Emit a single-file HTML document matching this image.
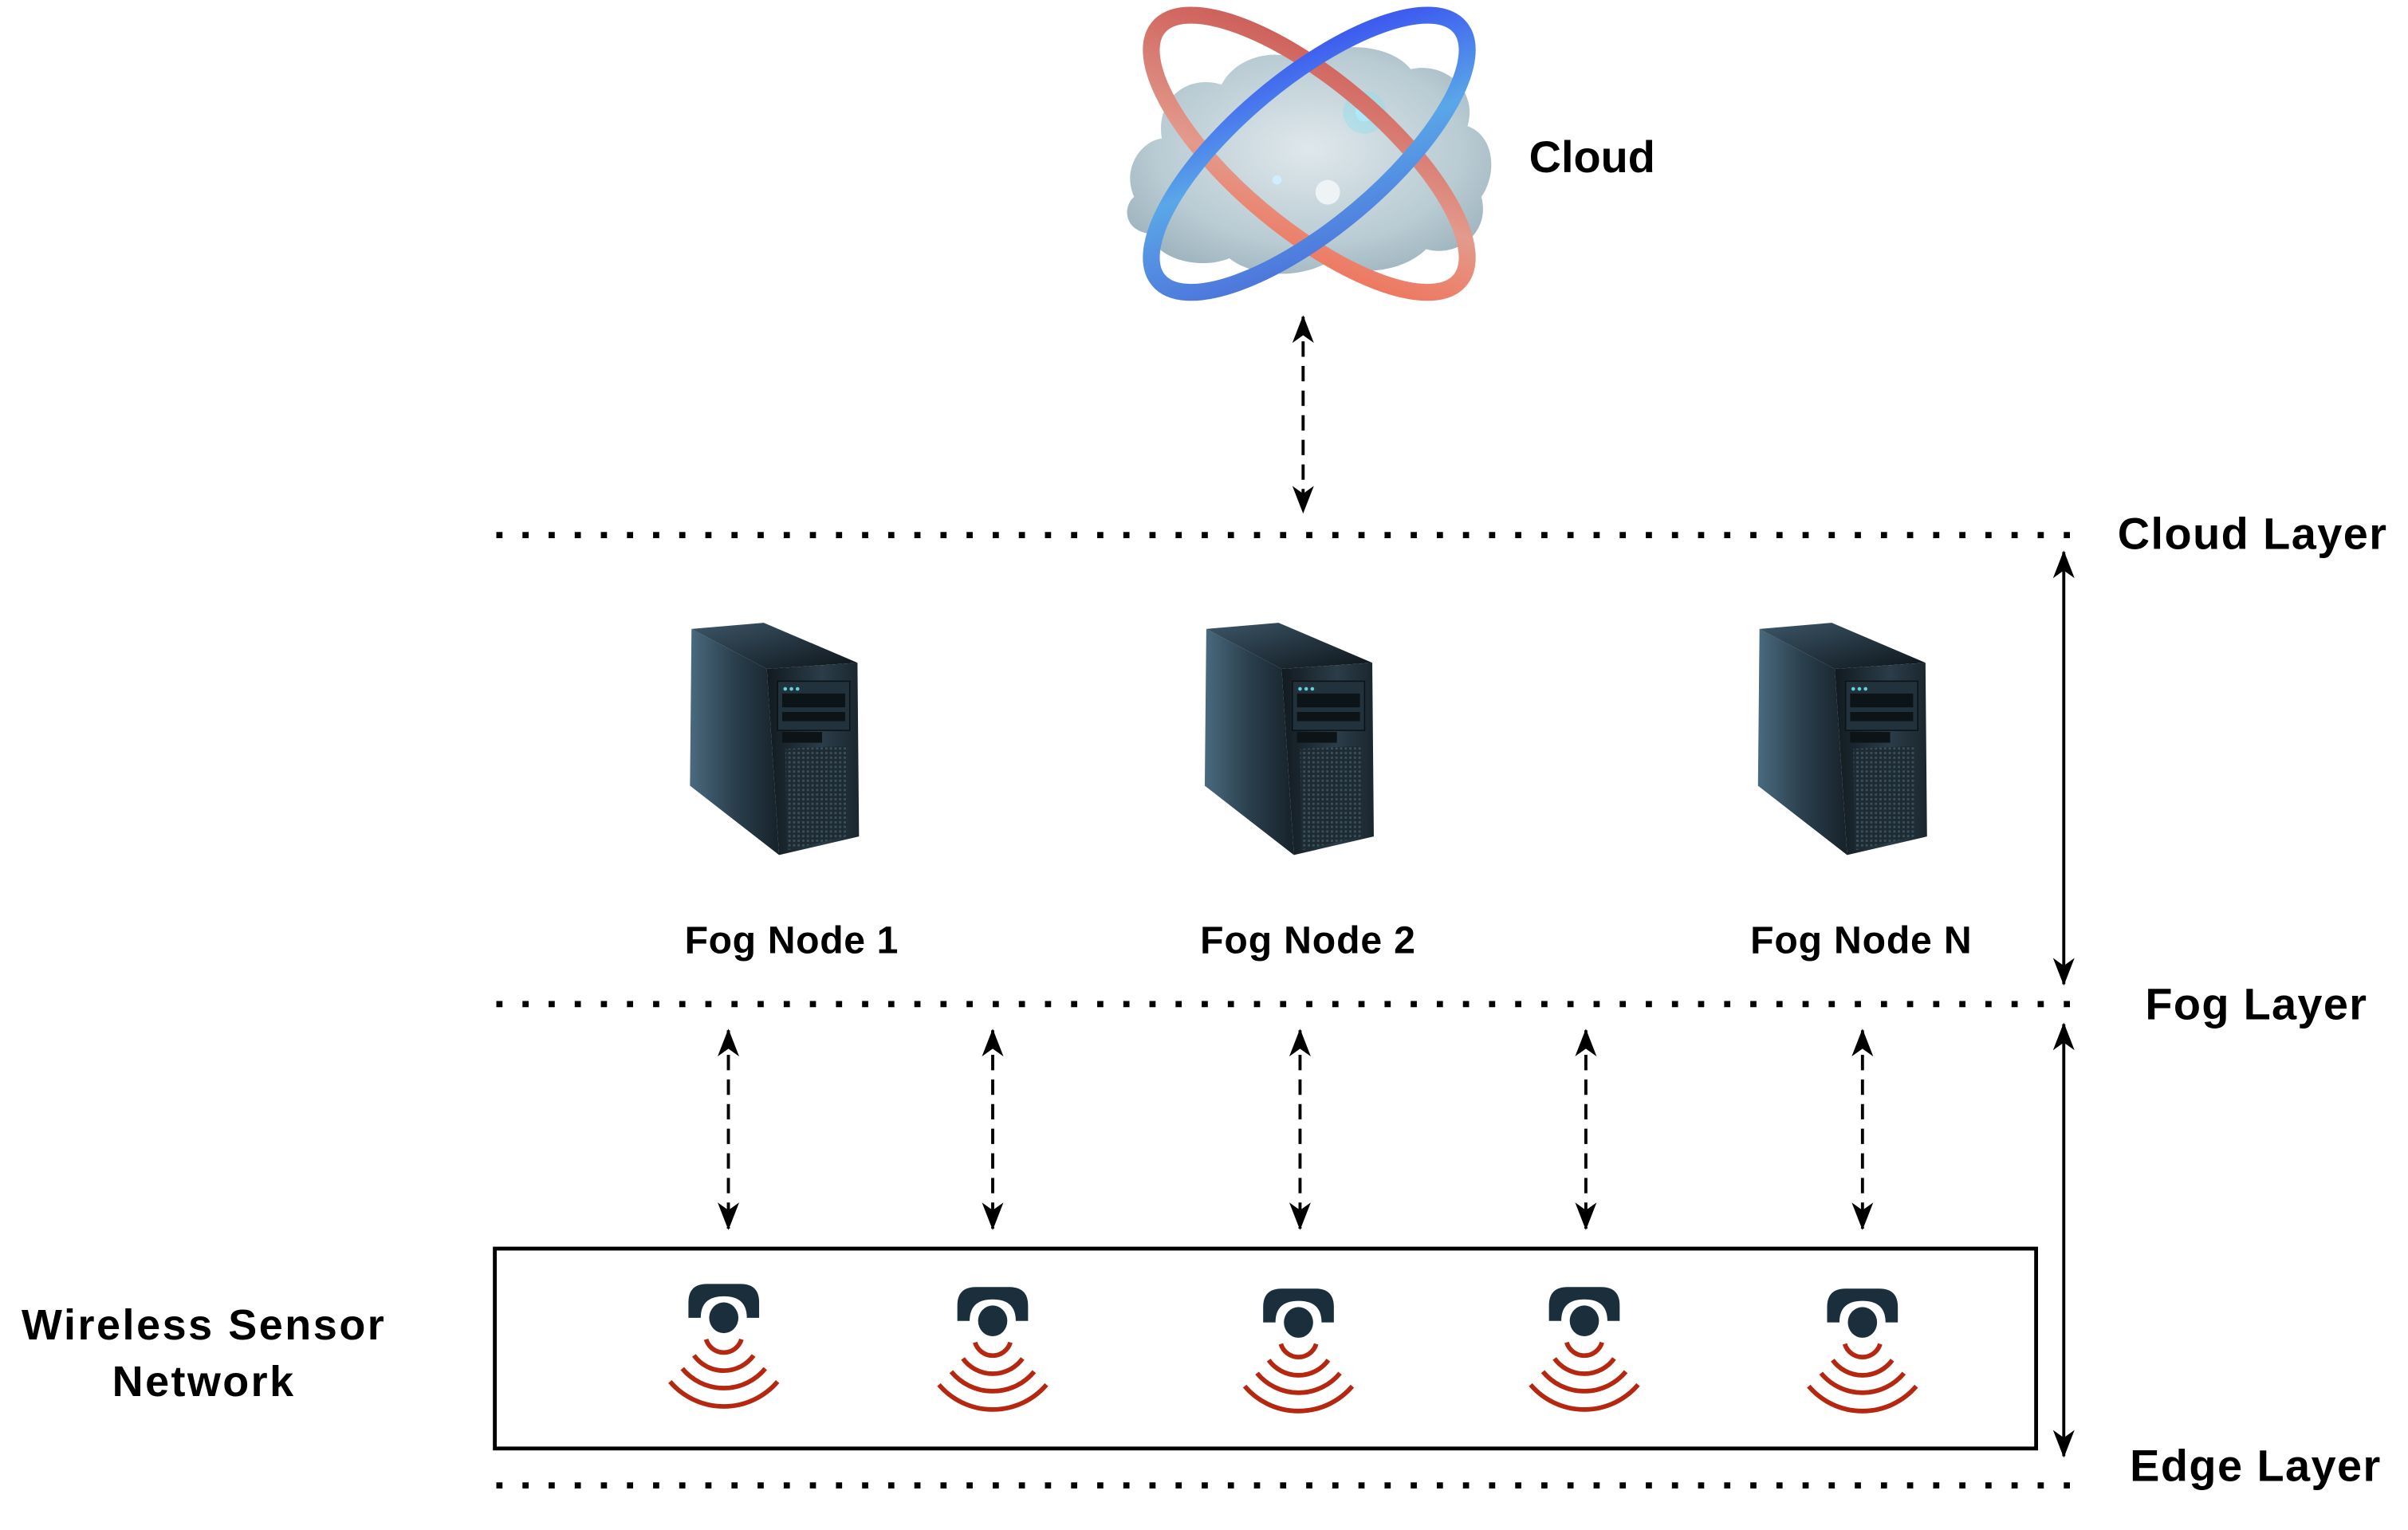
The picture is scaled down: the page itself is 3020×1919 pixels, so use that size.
<!DOCTYPE html>
<html><head><meta charset="utf-8"><style>
html,body{margin:0;padding:0;background:#fff;}
svg{display:block;}
text{font-family:"Liberation Sans",Arial,sans-serif;font-weight:bold;fill:#000;}
</style></head><body>
<svg width="3020" height="1919" viewBox="0 0 1567 995" preserveAspectRatio="none" xmlns="http://www.w3.org/2000/svg">
<defs>
 <linearGradient id="side" x1="0" y1="0" x2="1" y2="0">
  <stop offset="0" stop-color="#4a6a7e"/><stop offset="0.5" stop-color="#2a3f4d"/><stop offset="1" stop-color="#17222a"/>
 </linearGradient>
 <linearGradient id="top" x1="0" y1="0" x2="1" y2="1">
  <stop offset="0" stop-color="#3c5668"/><stop offset="1" stop-color="#0e151a"/>
 </linearGradient>
 <linearGradient id="front" x1="0" y1="0" x2="1" y2="0">
  <stop offset="0" stop-color="#111a20"/><stop offset="0.6" stop-color="#2b3d49"/><stop offset="1" stop-color="#1a262e"/>
 </linearGradient>
 <pattern id="grill" width="3" height="3" patternUnits="userSpaceOnUse">
  <rect width="3" height="3" fill="#1e2b33"/><rect width="1.5" height="1.5" fill="#3a4f5c"/>
 </pattern>
 <radialGradient id="cl" cx="0.5" cy="0.45" r="0.6">
  <stop offset="0" stop-color="#dfe8ec"/><stop offset="0.7" stop-color="#b9cbd3"/><stop offset="1" stop-color="#9fb5bf"/>
 </radialGradient>
 <linearGradient id="red" x1="0" y1="0" x2="1" y2="1">
  <stop offset="0" stop-color="#c9534f"/><stop offset="0.6" stop-color="#e39a8c"/><stop offset="1" stop-color="#f26b4f"/>
 </linearGradient>
 <linearGradient id="blue" x1="1" y1="0" x2="0" y2="1">
  <stop offset="0" stop-color="#3442f2"/><stop offset="0.5" stop-color="#5aa7e8"/><stop offset="1" stop-color="#4a68d8"/>
 </linearGradient>
 <g id="server">
  <polygon points="450,409 499,435 507,556 449,511" fill="url(#side)"/>
  <polygon points="450,409 497,405 558,431 499,435" fill="url(#top)"/>
  <polygon points="499,435 558,431 559,544 507,556" fill="url(#front)"/>
  <rect x="506" y="443" width="47" height="32" fill="#22323c" stroke="#0b1115" stroke-width="0.8"/>
  <circle cx="511" cy="448" r="1.2" fill="#5fd0dc"/><circle cx="515" cy="448" r="1.2" fill="#5fd0dc"/><circle cx="519" cy="448" r="1.2" fill="#5fd0dc"/>
  <rect x="509" y="451" width="41" height="9" fill="#0d1418"/>
  <rect x="509" y="463" width="41" height="6" fill="#0d1418"/>
  <rect x="509" y="476" width="26" height="7" fill="#0d1418"/>
  <polygon points="511,487 551,485 551,544 512,553" fill="url(#grill)"/>
 </g>
 <g id="sensor">
  <path d="M-23,0 L-23,-10 Q-23,-22 -11,-22 L11,-22 Q23,-22 23,-10 L23,0 L15,0 Q15,-14 0,-14 Q-15,-14 -15,0 Z" fill="#1b2e3b"/>
  <ellipse cx="0" cy="0" rx="9.5" ry="10" fill="#1b2e3b"/>
  <g fill="none" stroke="#b5280f" stroke-width="3">
   <path d="M-11.5,14 A12,12 0 0 0 11.5,14"/>
   <path d="M-19.4,24.5 A24,24 0 0 0 19.4,24.5"/>
   <path d="M-27,33 A35,35 0 0 0 27,33"/>
   <path d="M-35,41.5 A46,46 0 0 0 35,41.5"/>
  </g>
 </g>
 <marker id="ah" viewBox="0 0 18 14" refX="17" refY="7" markerWidth="18" markerHeight="14" markerUnits="userSpaceOnUse" orient="auto-start-reverse">
  <path d="M0,0 L18,7 L0,14 L5,7 Z" fill="#000"/>
 </marker>
</defs>

<!-- Cloud -->
<g>
 <path d="M738,128 C730,110 742,92 756,90 C752,65 772,48 795,55 C805,35 835,30 850,42 C865,25 905,28 918,45 C940,40 962,58 955,82 C972,88 975,112 964,128 C970,150 950,168 928,162 C912,178 880,180 865,170 C845,182 815,180 800,168 C780,176 752,168 748,152 C732,150 730,135 738,128 Z" fill="url(#cl)"/>
 <circle cx="888" cy="73" r="6" fill="#bff4ff" opacity="0.9"/>
 <circle cx="888" cy="73" r="14" fill="#7fe0f0" opacity="0.35"/>
 <circle cx="831" cy="117" r="3" fill="#cfefff"/>
 <circle cx="864" cy="125" r="8" fill="#eef4f6"/>
 <ellipse cx="852" cy="100" rx="128" ry="48" transform="rotate(40 852 100)" fill="none" stroke="url(#red)" stroke-width="11"/>
 <ellipse cx="852" cy="100" rx="128" ry="48" transform="rotate(-40 852 100)" fill="none" stroke="url(#blue)" stroke-width="11"/>
</g>
<text x="995" y="112" font-size="29">Cloud</text>

<!-- dotted layer lines -->
<g stroke="#000" stroke-width="4" stroke-dasharray="4 13">
 <line x1="323" y1="348" x2="1352" y2="348"/>
 <line x1="323" y1="653" x2="1352" y2="653"/>
 <line x1="323" y1="966" x2="1352" y2="966"/>
</g>
<text x="1378" y="357" font-size="29" textLength="175">Cloud Layer</text>
<text x="1396" y="663" font-size="29" textLength="144">Fog Layer</text>
<text x="1386" y="963" font-size="29" textLength="163">Edge Layer</text>

<!-- dashed arrows -->
<g stroke="#000" stroke-width="2" stroke-dasharray="10 6" marker-start="url(#ah)" marker-end="url(#ah)">
 <line x1="848" y1="206" x2="848" y2="333"/>
 <line x1="474" y1="670" x2="474" y2="799"/>
 <line x1="646" y1="670" x2="646" y2="799"/>
 <line x1="846" y1="670" x2="846" y2="799"/>
 <line x1="1032" y1="670" x2="1032" y2="799"/>
 <line x1="1212" y1="670" x2="1212" y2="799"/>
</g>
<!-- solid arrows -->
<g stroke="#000" stroke-width="2" marker-start="url(#ah)" marker-end="url(#ah)">
 <line x1="1343" y1="359" x2="1343" y2="640"/>
 <line x1="1343" y1="666" x2="1343" y2="947"/>
</g>

<!-- servers -->
<use href="#server"/>
<use href="#server" transform="translate(335 0)"/>
<use href="#server" transform="translate(695 0)"/>
<text x="515" y="620" font-size="25" text-anchor="middle" textLength="139">Fog Node 1</text>
<text x="851" y="620" font-size="25" text-anchor="middle" textLength="140">Fog Node 2</text>
<text x="1211" y="620" font-size="25" text-anchor="middle" textLength="144">Fog Node N</text>

<!-- WSN box -->
<rect x="322" y="812" width="1003" height="130" fill="none" stroke="#000" stroke-width="2.5"/>
<use href="#sensor" transform="translate(471 857)"/>
<use href="#sensor" transform="translate(646 859)"/>
<use href="#sensor" transform="translate(845 860)"/>
<use href="#sensor" transform="translate(1031 859)"/>
<use href="#sensor" transform="translate(1212 860)"/>
<text x="132" y="871" font-size="28" text-anchor="middle" textLength="236">Wireless Sensor</text>
<text x="132" y="908" font-size="28" text-anchor="middle" textLength="118">Network</text>
</svg>
</body></html>
